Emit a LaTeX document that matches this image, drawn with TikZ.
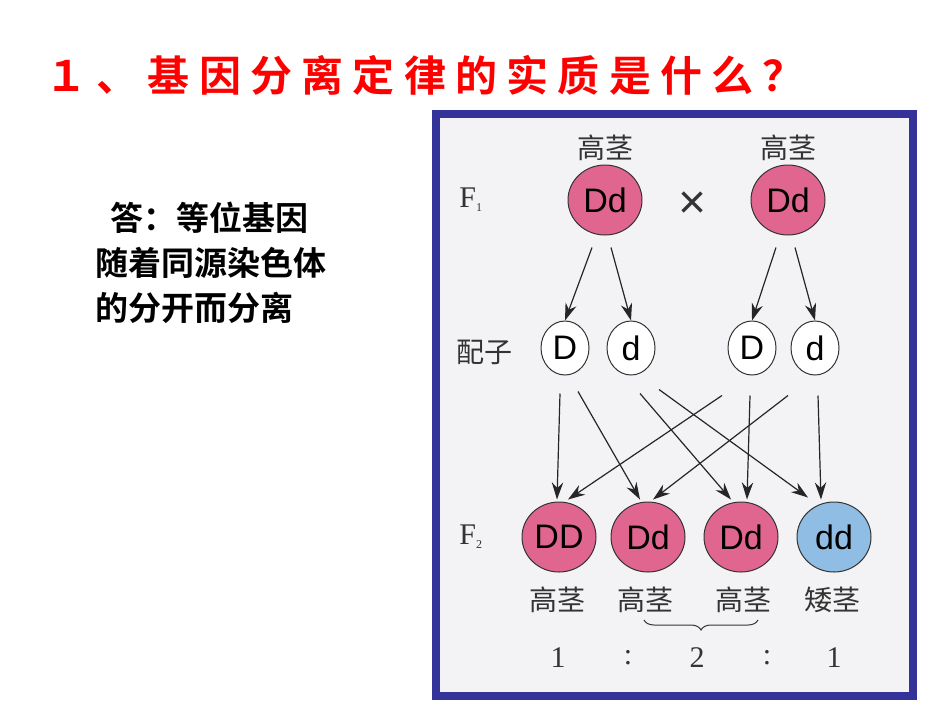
\documentclass[tikz,border=0pt]{standalone}
\usepackage{fontspec}
\newfontfamily\cjk{Noto Sans CJK SC}
\newfontfamily\cjkb{Noto Sans CJK SC Bold}
\newfontfamily\cjkt[LetterSpace=22]{Noto Sans CJK SC Bold}
\setmainfont{Liberation Serif}
\setsansfont{Liberation Sans}
\begin{document}
\begin{tikzpicture}[x=1pt,y=-1pt,
  pink/.style={ellipse,draw=black!80,line width=1pt,fill=pinkc,minimum width=74,minimum height=70,inner sep=0,font=\sffamily\fontsize{34}{34}\selectfont},
  blue/.style={pink,fill=bluec},
  gam/.style={ellipse,draw=black!80,line width=1pt,fill=white,minimum width=48,minimum height=54,inner sep=0,font=\sffamily\fontsize{34}{34}\selectfont},
  lab/.style={font=\cjk\fontsize{28}{28}\selectfont,text=black!80},
  num/.style={font=\fontsize{30}{30}\selectfont,text=black!80},
  arr/.style={-{Stealth[length=6mm,width=4mm]},line width=1.2pt,black!85}]
\usetikzlibrary{shapes.geometric,arrows.meta,decorations.pathreplacing}
\definecolor{pinkc}{HTML}{E0668F}
\definecolor{bluec}{HTML}{8FBDE3}
\definecolor{framec}{HTML}{33339A}
\useasboundingbox (0,0) rectangle (950,713);
\fill[white] (0,0) rectangle (950,713);
\node[anchor=west,text=red,font=\cjkt\fontsize{42}{42}\selectfont] (title) at (42,75) {１、基因分离定律的实质是什么？};
\node[anchor=north west,align=left,font=\cjkb\fontsize{33}{45}\selectfont] (ans) at (92,198) {\ \ 答：等位基因\\随着同源染色体\\的分开而分离};
\draw[framec,line width=8pt,fill={rgb,255:red,243;green,243;blue,245}] (436,114) rectangle (913,696);
\node[lab] (h1) at (605,148) {高茎};
\node[lab] (h2) at (788,148) {高茎};
\node[num] (f1) at (471,200) {F\textsubscript{\fontsize{12}{12}\selectfont 1}};
\node[pink] (p1) at (605,200) {Dd};
\node[pink] (p2) at (788,200) {Dd};
\node[font=\sffamily\fontsize{48}{48}\selectfont,text=black!80] (x) at (693,205) {×};
\node[lab] (pz) at (484,352) {配子};
\node[gam] (g1) at (565,348) {D};
\node[gam] (g2) at (631,348) {d};
\node[gam] (g3) at (752,348) {D};
\node[gam] (g4) at (815,348) {d};
\draw[arr] ([shift={(-13,12)}]p1.south) -- (g1.north);
\draw[arr] ([shift={(6,12)}]p1.south) -- (g2.north);
\draw[arr] ([shift={(-12,12)}]p2.south) -- (g3.north);
\draw[arr] ([shift={(7,12)}]p2.south) -- (g4.north);
\node[num] (f2) at (471,537) {F\textsubscript{\fontsize{12}{12}\selectfont 2}};
\node[pink] (DD) at (559,537) {DD};
\node[pink] (Dd1) at (648,537) {Dd};
\node[pink] (Dd2) at (741,537) {Dd};
\node[blue] (dd) at (834,537) {dd};
\draw[arr] ([shift={(-5,18)}]g1.south) -- ([shift={(-2,-2)}]DD.north);
\draw[arr] ([shift={(13,16)}]g1.south) -- ([shift={(-8,-2)}]Dd1.north);
\draw[arr] ([shift={(9,18)}]g2.south) -- ([shift={(-10,-2)}]Dd2.north);
\draw[arr] ([shift={(28,14)}]g2.south) -- ([shift={(-26,-4)}]dd.north);
\draw[arr] ([shift={(-30,20)}]g3.south) -- ([shift={(9,-2)}]DD.north);
\draw[arr] ([shift={(-27,20)}]g4.south) -- ([shift={(5,-2)}]Dd1.north);
\draw[arr] ([shift={(-2,20)}]g3.south) -- ([shift={(6,-2)}]Dd2.north);
\draw[arr] ([shift={(3,20)}]g4.south) -- ([shift={(-13,-2)}]dd.north);
\node[lab] (l1) at (557,600) {高茎};
\node[lab] (l2) at (645,600) {高茎};
\node[lab] (l3) at (743,600) {高茎};
\node[lab] (l4) at (832,600) {矮茎};
\draw[decorate,decoration={brace,amplitude=10,mirror},line width=1pt,black!80] (644,620) -- (758,620);
\node[num] (n1) at (558,658) {1};
\node[num] (c1) at (628,658) {:};
\node[num] (n2) at (697,658) {2};
\node[num] (c2) at (767,658) {:};
\node[num] (n3) at (834,658) {1};
\end{tikzpicture}
\end{document}
